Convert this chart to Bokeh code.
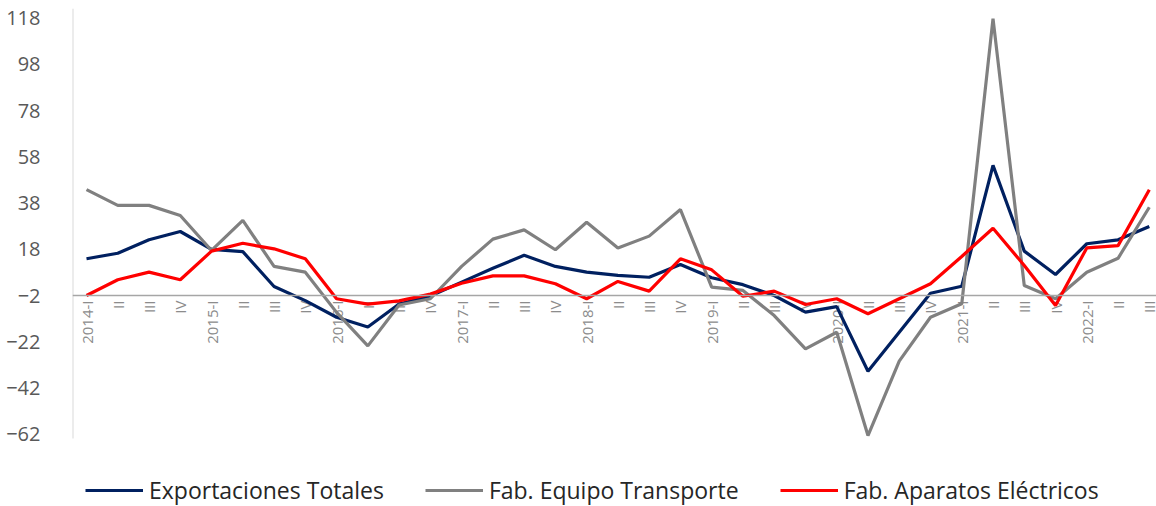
import math
from bokeh.plotting import figure
from bokeh.models import Span, Legend, LegendItem, FixedTicker, Range1d, ColumnDataSource
from bokeh.core.properties import value
from bokeh.embed import file_html
from bokeh.resources import INLINE

labels = ["2014-I", "II", "III", "IV", "2015-I", "II", "III", "IV",
          "2016-I", "II", "III", "IV", "2017-I", "II", "III", "IV",
          "2018-I", "II", "III", "IV", "2019-I", "II", "III", "IV",
          "2020-I", "II", "III", "IV", "2021-I", "II", "III", "IV",
          "2022-I", "II", "III"]

exportaciones = [13.9, 16.3, 22.1, 25.7, 18.0, 17.0, 1.9, -4.2,
                 -11.4, -15.6, -5.7, -2.2, 3.8, 9.8, 15.4, 10.6,
                 8.1, 6.7, 5.9, 11.4, 5.7, 2.7, -2.0, -9.2,
                 -6.8, -34.8, -17.9, -1.0, 2.0, 54.3, 17.2, 7.1,
                 20.4, 22.1, 27.9]

equipo = [43.8, 37.0, 37.0, 32.6, 17.5, 30.5, 10.6, 8.1,
          -9.3, -23.8, -6.1, -3.4, 10.6, 22.4, 26.4, 17.8,
          29.7, 18.6, 23.7, 35.2, 1.6, 0.2, -10.7, -25.1,
          -17.9, -62.6, -30.4, -11.4, -5.6, 117.8, 2.3, -3.4,
          8.1, 14.1, 36.2]

aparatos = [-2.0, 4.8, 8.1, 4.8, 17.2, 20.6, 18.2, 13.9,
            -3.4, -5.7, -4.3, -1.4, 3.3, 6.5, 6.5, 3.1,
            -3.4, 4.1, -0.1, 13.9, 9.1, -2.3, -0.1, -5.9,
            -3.4, -9.9, -3.4, 3.1, 14.9, 27.1, 11.0, -6.3,
            18.6, 19.6, 43.8]

series_names = ["Exportaciones Totales", "Fab. Equipo Transporte", "Fab. Aparatos Eléctricos"]
y_ticks = [-62, -42, -22, -2, 18, 38, 58, 78, 98, 118]
baseline = -2
axis_bottom = -63.9
axis_top = 122.2

xs = list(range(len(labels)))
x_start, x_end = -0.448, 34.23

p = figure(width=1156, height=506, output_backend="svg", toolbar_location=None,
           x_range=Range1d(x_start, x_end), y_range=Range1d(-93.3, axis_top),
           min_border_left=72, min_border_right=0, min_border_top=8, min_border_bottom=0)

p.outline_line_color = None
p.xgrid.visible = False
p.ygrid.visible = False
p.xaxis.visible = False

ya = p.yaxis[0]
ya.ticker = FixedTicker(ticks=y_ticks)
ya.major_tick_line_color = None
ya.minor_tick_line_color = None
ya.axis_line_color = None
ya.major_label_text_font = "Open Sans"
ya.major_label_text_font_size = "20px"
ya.major_label_text_color = "#595959"
ya.major_label_standoff = 26

# vertical axis line (only over the value axis span)
p.segment(x0=[x_start], y0=[axis_bottom], x1=[x_start], y1=[axis_top],
          line_color="#d9d9d9", line_width=2)

p.add_layout(Span(location=baseline, dimension="width", line_color="#a6a6a6", line_width=1.5))

src = ColumnDataSource(dict(x=xs, y=[baseline] * len(xs), t=labels))
p.text(x="x", y="y", text="t", source=src, angle=math.pi / 2,
       text_align="right", text_baseline="middle", y_offset=5,
       text_font=value("Open Sans"), text_font_size="15px", text_color="#8c8c8c")

r1 = p.line(xs, exportaciones, line_color="#002060", line_width=3.2)
r2 = p.line(xs, equipo, line_color="#808080", line_width=3.2)
r3 = p.line(xs, aparatos, line_color="#ff0000", line_width=3.2)

legend = Legend(items=[LegendItem(label=series_names[0], renderers=[r1]),
                       LegendItem(label=series_names[1], renderers=[r2]),
                       LegendItem(label=series_names[2], renderers=[r3])],
                orientation="horizontal", location=(13, 0),
                glyph_width=58, glyph_height=20, label_standoff=6, spacing=41,
                padding=0, margin=0,
                label_text_font="Open Sans", label_text_font_size="23px",
                label_text_color="#262626",
                background_fill_alpha=0, border_line_alpha=0)
p.add_layout(legend, "center")

open("out.html", "w").write(file_html(p, INLINE))
